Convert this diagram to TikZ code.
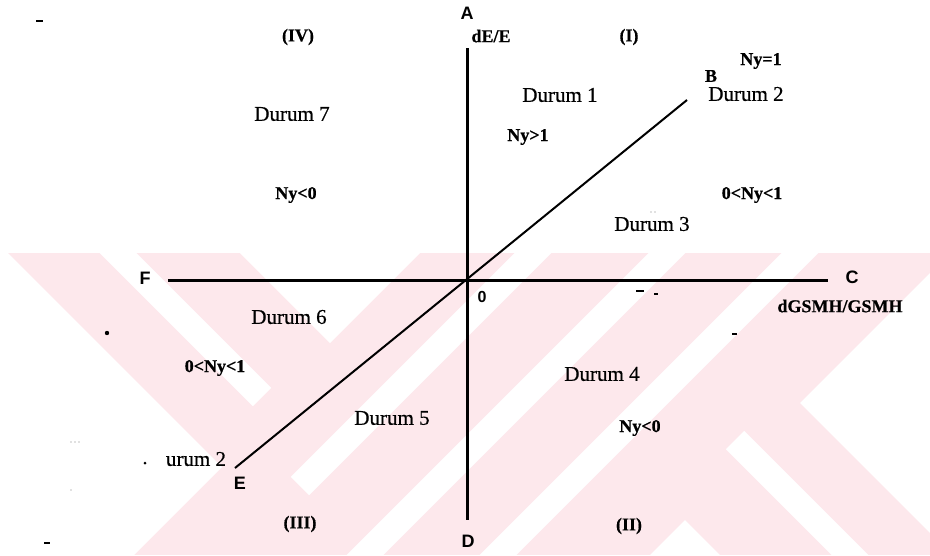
\documentclass[tikz,border=0pt]{standalone}
\usepackage{fontspec}
\setmainfont{Liberation Serif}
\newfontfamily\lsans{Liberation Sans}
\newfontfamily\durfont[FakeBold=0.5]{Liberation Serif}
\newfontfamily\labfont[FakeBold=0.6]{Liberation Serif Bold}
\definecolor{wm}{RGB}{253,232,236}
\begin{document}
\begin{tikzpicture}[x=1pt,y=-1pt,
  dur/.style={font=\durfont\fontsize{21}{24}\selectfont, inner sep=0pt},
  lab/.style={font=\labfont\fontsize{18}{21}\selectfont, inner sep=0pt},
  pnt/.style={font=\lsans\fontsize{18}{21}\selectfont\bfseries, inner sep=0pt},
  axisline/.style={line width=3pt, black},
  diagline/.style={line width=2pt, black},
  band/.style={white, line width=26pt}]
\useasboundingbox (0,0) rectangle (930,555);
\fill[white] (0,0) rectangle (930,555);
% watermark
\begin{scope}
  \clip (8,253) rectangle (930,555);
  \fill[wm] (8,253) rectangle (930,555);
  \fill[white] (0,253) -- (8,253) -- (222,467) -- (134,555) -- (0,555) -- cycle;
  \draw[band] (100,235) -- (262,397);
  \fill[white] (240,253) -- (420,253) -- (330,343) -- cycle;
  \draw[band] (551,235) -- (300,486);
  \draw[band] (685,235) -- (345,575);
  \draw[band] (818,235) -- (478,575);
  \fill[white] (800,403) -- (940,263) -- (940,543) -- cycle;
  \draw[band] (735,440) -- (880,585);
  \fill[white] (645,560) -- (685,520) -- (725,560) -- cycle;
\end{scope}
% axes
\coordinate (O) at (467,280);
\coordinate (Atop) at (467,48);
\coordinate (Dbot) at (467,520);
\coordinate (Fend) at (168,280);
\coordinate (Cend) at (828,280);
\coordinate (Bend) at (687,100);
\coordinate (Eend) at (235,468);
\draw[axisline] (Atop) -- (Dbot);
\draw[axisline] (Fend) -- (Cend);
\draw[diagline] (Eend) -- (Bend);
% point labels
\node[pnt] (A) at (467,13) {A};
\node[pnt] (C) at (852,277) {C};
\node[pnt] (D) at (468,541) {D};
\node[pnt] (E) at (240,483) {E};
\node[pnt] (F) at (145,278) {F};
\node[pnt, font=\lsans\fontsize{16}{19}\selectfont\bfseries] (zero) at (482,297) {0};
\node[lab] (B) at (711,76) {B};
% axis labels
\node[lab] (yl) at (491,36) {dE/E};
\node[lab] (xl) at (840,306) {dGSMH/GSMH};
% quadrants
\node[lab] (q4) at (298,37) {(IV)};
\node[lab] (q1) at (629,37) {(I)};
\node[lab] (q3) at (300,524) {(III)};
\node[lab] (q2) at (629,526) {(II)};
% cases
\node[dur] (d1) at (560,95) {Durum 1};
\node[dur] (d2) at (746,94) {Durum 2};
\node[dur] (d3) at (652,224) {Durum 3};
\node[dur] (d4) at (602,374) {Durum 4};
\node[dur] (d5) at (392,418) {Durum 5};
\node[dur] (d6) at (289,317) {Durum 6};
\node[dur] (d7) at (292,114) {Durum 7};
\node[dur] (d2b) at (196,459) {urum 2};
% elasticity
\node[lab] (n1) at (761,61) {Ny=1};
\node[lab] (n2) at (528,137) {Ny>1};
\node[lab] (n3) at (752,195) {0<Ny<1};
\node[lab] (n4) at (296,195) {Ny<0};
\node[lab] (n5) at (215,368) {0<Ny<1};
\node[lab] (n6) at (640,428) {Ny<0};
% specks
\fill (36,20) rectangle (43,22);
\fill (107,333) circle (2.2);
\fill (145,463) circle (1.5);
\fill (44,542) rectangle (50,544);
\fill (636,290) rectangle (644,292);
\fill (654,293) rectangle (658,295);
\fill (732,333) rectangle (737,334.5);
\fill[gray] (71,442) circle (0.7) (75,442) circle (0.7) (79,442) circle (0.7);
\fill[gray] (71,490) circle (0.7);
\fill[gray] (651,212) circle (0.7) (655,212) circle (0.7);
\end{tikzpicture}
\end{document}
